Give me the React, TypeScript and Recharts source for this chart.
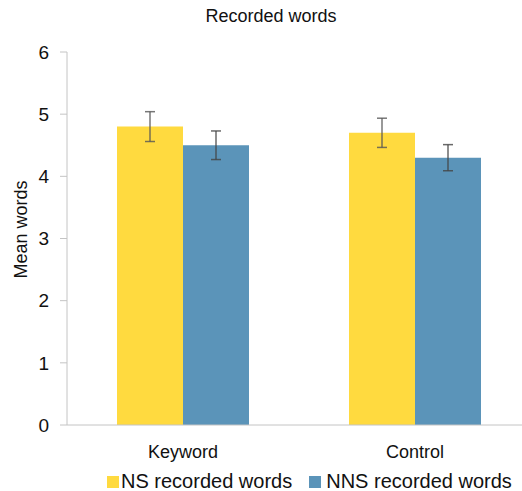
import { BarChart, Bar, XAxis, YAxis, ErrorBar } from 'recharts'

const categories = ['Keyword', 'Control']
const nsMeans = [4.8, 4.7]
const nnsMeans = [4.5, 4.3]
const nsErrors = [0.24, 0.235]
const nnsErrors = [0.23, 0.21]
const yTicks = [0, 1, 2, 3, 4, 5, 6]

const seriesNames = ['NS recorded words', 'NNS recorded words']
const seriesColors = ['#FFDA3F', '#5B94B9']

const data = categories.map((c, i) => ({
  category: c,
  ns: nsMeans[i],
  nnsv: nnsMeans[i],
  nsErr: nsErrors[i],
  nnsErr: nnsErrors[i],
}))

const font = '"Liberation Sans", Arial, sans-serif'
const axisColor = '#c4c4c4'

export default function App() {
  return (
    <div
      style={{
        position: 'absolute',
        left: 0,
        top: 0,
        width: 522,
        height: 491,
        overflow: 'hidden',
        background: '#fff',
        fontFamily: font,
      }}
    >
      <div
        style={{
          position: 'absolute',
          left: 0,
          width: 542,
          top: 6,
          textAlign: 'center',
          fontSize: 18,
          color: '#111',
        }}
      >
        Recorded words
      </div>
      <BarChart
        width={540}
        height={491}
        data={data}
        margin={{ top: 52, right: 9, left: 0, bottom: 0 }}
        barCategoryGap={50}
        barGap={0}
      >
        <XAxis
          dataKey="category"
          height={66}
          tickLine={false}
          tickSize={0}
          tickMargin={20}
          stroke={axisColor}
          tick={{ fill: '#111', fontSize: 18, fontFamily: font }}
        />
        <YAxis
          width={67}
          domain={[0, 6]}
          ticks={yTicks}
          interval={0}
          tickSize={7}
          tickMargin={11}
          stroke={axisColor}
          tick={{ fill: '#111', fontSize: 19, fontFamily: font }}
          label={{
            value: 'Mean words',
            angle: -90,
            position: 'insideLeft',
            dx: 16,
            dy: 40,
            style: { fill: '#111', fontSize: 18, fontFamily: font },
          }}
        />
        <Bar dataKey="ns" name={seriesNames[0]} fill={seriesColors[0]} isAnimationActive={false}>
          <ErrorBar dataKey="nsErr" width={5} stroke="#555" strokeWidth={1.5} strokeOpacity={0.8} />
        </Bar>
        <Bar dataKey="nnsv" name={seriesNames[1]} fill={seriesColors[1]} isAnimationActive={false}>
          <ErrorBar dataKey="nnsErr" width={5} stroke="#444" strokeWidth={1.5} strokeOpacity={0.8} />
        </Bar>
      </BarChart>
      <div
        style={{
          position: 'absolute',
          left: 107,
          top: 470,
          display: 'flex',
          alignItems: 'center',
          fontSize: 20,
          color: '#111',
          whiteSpace: 'nowrap',
        }}
      >
        {seriesNames.map((n, i) => (
          <div key={n} style={{ display: 'flex', alignItems: 'center', marginRight: 17 }}>
            <span
              style={{
                display: 'inline-block',
                width: 12,
                height: 12,
                background: seriesColors[i],
                marginRight: i === 0 ? 2 : 5,
              }}
            />
            <span>{n}</span>
          </div>
        ))}
      </div>
    </div>
  )
}
